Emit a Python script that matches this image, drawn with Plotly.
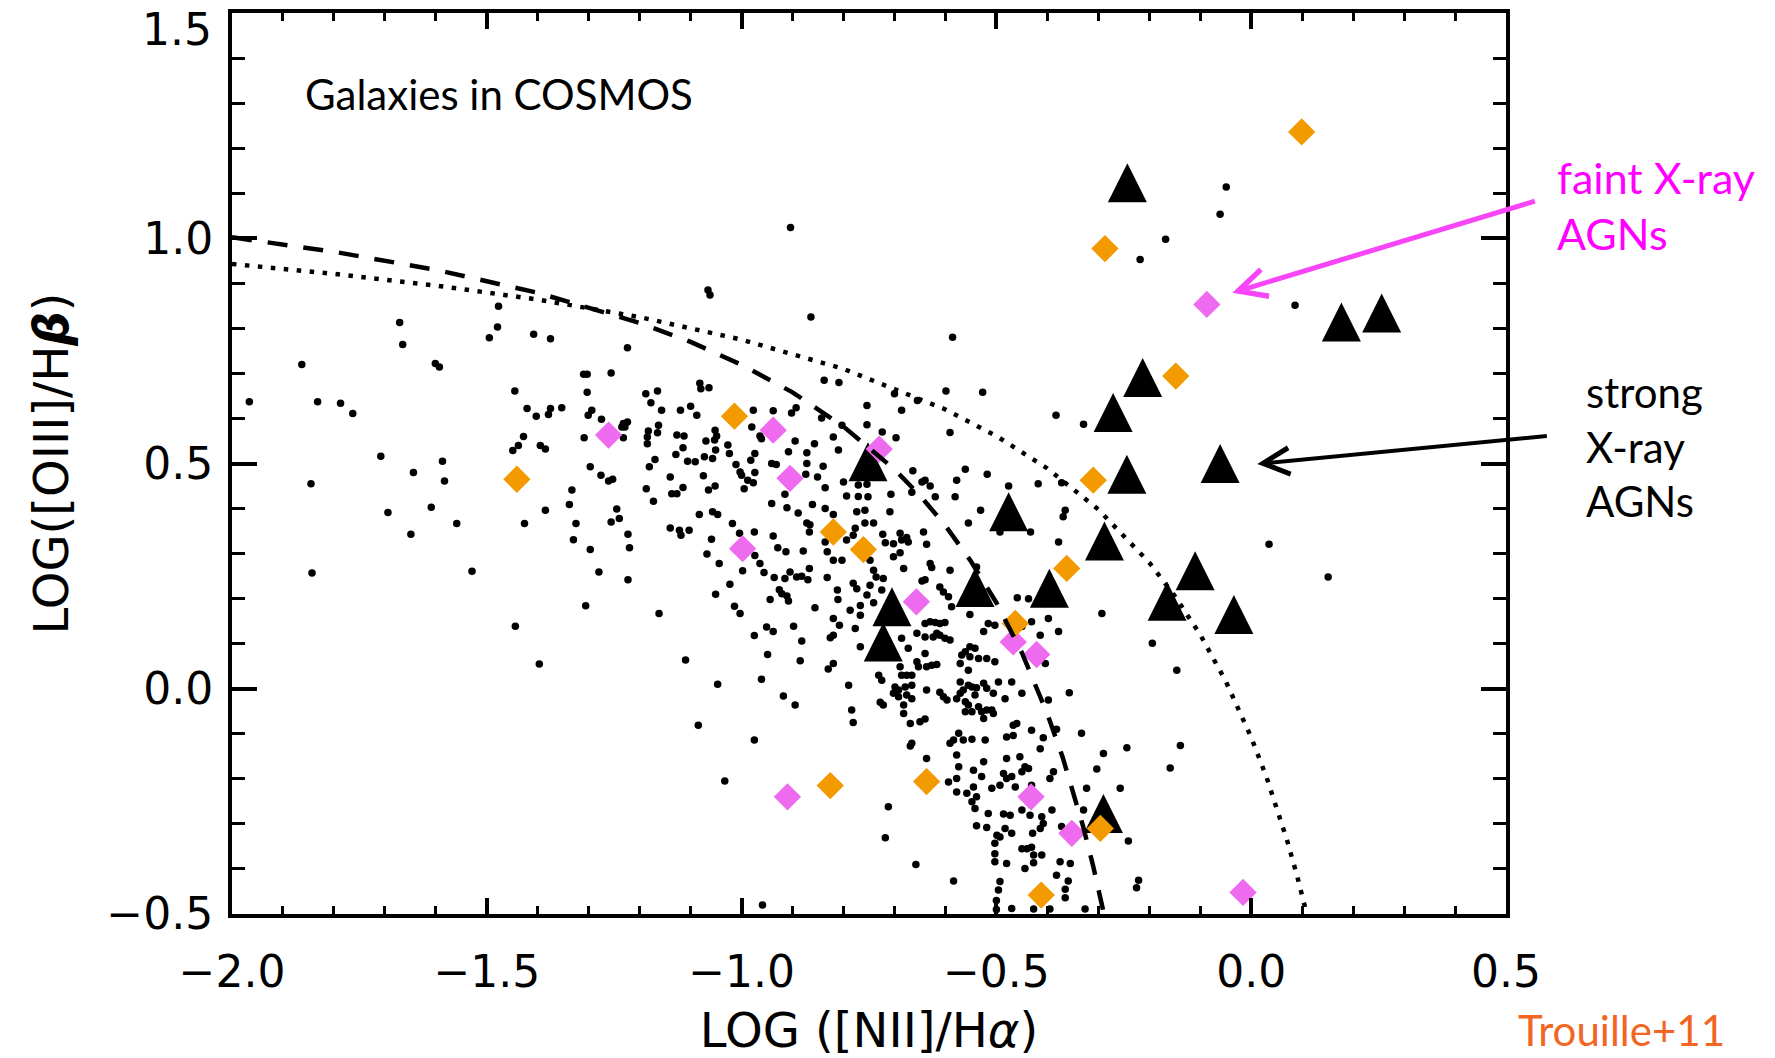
import plotly.graph_objects as go

# ---------------- data ----------------
# COSMOS galaxies (small black dots): log([NII]/Ha), log([OIII]/Hb)
gal_pts = [
    # left sparse region
    (-1.477,0.849),(-1.479,0.803),(-1.495,0.779),(-1.671,0.813),(-1.665,0.764),(-1.863,0.720),
    (-1.601,0.722),(-1.593,0.714),(-1.408,0.787),(-1.375,0.777),(-1.445,0.661),(-1.421,0.622),
    (-1.403,0.605),(-1.379,0.609),(-1.375,0.622),(-1.966,0.637),(-1.832,0.637),(-1.787,0.634),
    (-1.763,0.611),(-1.428,0.560),(-1.438,0.540),(-1.449,0.529),(-1.395,0.540),(-1.385,0.532),
    (-1.708,0.516),(-1.587,0.505),(-1.644,0.480),(-1.583,0.461),(-1.845,0.455),(-1.609,0.403),
    (-1.694,0.391),(-1.559,0.367),(-1.649,0.343),(-1.426,0.367),(-1.385,0.396),
    (-1.843,0.257),(-1.529,0.261),(-1.444,0.139),(-1.397,0.055),
    # upper isolated
    (-0.904,1.024),(-1.066,0.885),(-1.062,0.874),(-0.864,0.825),
    (-0.049,1.114),(-0.061,1.053),(-0.168,0.998),(-0.218,0.953),(0.086,0.851),
    (0.035,0.321),(0.151,0.248),(-0.194,0.101),(-0.146,0.041),(-0.139,-0.126),(-0.159,-0.176),
    # main cloud, upper-left part
    (-1.224,0.757),(-1.310,0.698),(-1.303,0.698),(-1.256,0.701),(-1.303,0.658),(-1.188,0.655),
    (-1.165,0.661),(-1.082,0.678),(-1.080,0.666),(-1.064,0.668),(-1.178,0.635),(-1.157,0.618),
    (-1.120,0.618),(-1.100,0.627),(-1.088,0.607),(-1.353,0.624),(-1.294,0.618),(-1.301,0.607),
    (-1.275,0.598),(-1.232,0.589),(-1.224,0.592),(-1.229,0.581),(-1.235,0.581),(-1.309,0.557),
    (-1.232,0.557),(-1.183,0.572),(-1.185,0.559),(-1.165,0.568),(-1.163,0.585),(-1.185,0.544),
    (-1.127,0.563),(-1.113,0.561),(-1.115,0.535),(-1.129,0.520),(-1.070,0.550),(-1.052,0.574),
    (-1.049,0.561),(-1.053,0.552),(-1.027,0.541),(-1.024,0.522),(-0.977,0.618),(-0.980,0.581),
    (-0.964,0.561),(-0.961,0.555),(-0.938,0.617),(-0.902,0.612),(-0.893,0.624),(-0.843,0.601),
    (-0.820,0.559),(-0.810,0.530),(-0.838,0.685),(-0.809,0.680),(-1.297,0.493),(-1.276,0.474),
    (-1.261,0.461),(-1.253,0.465),(-1.170,0.509),(-1.181,0.493),(-1.140,0.470),(-1.106,0.505),
    (-1.091,0.504),(-1.073,0.515),(-1.057,0.511),(-1.051,0.530),(-1.075,0.473),(-1.011,0.498),
    (-1.003,0.481),(-1.000,0.474),(-0.988,0.463),(-0.974,0.480),(-0.977,0.457),(-0.982,0.507),
    (-0.974,0.522),(-0.941,0.500),(-0.932,0.498),(-0.908,0.526),(-0.895,0.550),(-0.872,0.524),
    (-0.857,0.544),(-0.872,0.500),(-0.840,0.494),(-0.851,0.470),(-0.836,0.446),(-0.874,0.476),
    (-0.915,0.432),(-0.941,0.411),(-0.911,0.402),(-0.889,0.390),(-0.861,0.409),(-0.836,0.400),
    (-0.820,0.387),(-0.872,0.368),(-0.866,0.364),(-0.867,0.348),(-0.836,0.326),(-0.817,0.337),
    (-1.333,0.441),(-1.338,0.409),(-1.325,0.367),(-1.330,0.331),(-1.297,0.309),(-1.256,0.370),
    (-1.240,0.378),(-1.245,0.399),(-1.223,0.343),(-1.220,0.313),(-1.280,0.259),(-1.223,0.242),
    (-1.306,0.184),(-1.162,0.167),(-1.187,0.444),(-1.173,0.416),(-1.137,0.433),(-1.127,0.433),
    (-1.115,0.447),(-1.065,0.441),(-1.052,0.450),(-1.083,0.387),(-1.057,0.393),(-1.047,0.387),
    (-1.140,0.357),(-1.122,0.352),(-1.119,0.341),(-1.103,0.352),(-1.018,0.367),(-1.004,0.345),
    (-0.975,0.348),(-0.995,0.444),(-1.059,0.332),(-1.068,0.299),(-1.044,0.278),(-1.023,0.232),
    (-1.051,0.210),(-1.014,0.183),(-1.003,0.167),(-0.998,0.262),(-0.974,0.296),(-0.964,0.278),
    (-0.956,0.258),(-0.938,0.339),(-0.929,0.313),(-0.913,0.304),(-0.936,0.247),(-0.915,0.245),
    (-0.905,0.259),(-0.892,0.248),(-0.882,0.250),(-0.870,0.242),(-0.867,0.267),(-0.879,0.306),
    (-0.926,0.220),(-0.921,0.211),(-0.911,0.206),(-0.908,0.195),(-0.944,0.198),(-0.951,0.137),
    (-0.898,0.139),(-0.856,0.180),(-0.832,0.247),(-0.832,0.304),(-0.820,0.285),(-0.820,0.156),
    (-0.811,0.198),(-0.812,0.219),
    # main cloud, upper-right part
    (-0.586,0.780),(-0.700,0.655),(-0.655,0.640),(-0.599,0.661),(-0.527,0.658),(-0.754,0.629),
    (-0.686,0.618),(-0.383,0.607),(-0.329,0.587),(-0.754,0.586),(-0.591,0.569),(-0.724,0.570),
    (-0.697,0.557),(-0.561,0.487),(-0.518,0.476),(-0.664,0.484),(-0.646,0.459),(-0.640,0.463),
    (-0.630,0.450),(-0.578,0.463),(-0.581,0.426),(-0.620,0.426),(-0.666,0.436),(-0.476,0.450),
    (-0.418,0.455),(-0.372,0.457),(-0.365,0.396),(-0.369,0.382),(-0.531,0.396),(-0.707,0.432),
    (-0.709,0.393),(-0.800,0.459),(-0.771,0.452),(-0.754,0.454),(-0.752,0.426),(-0.771,0.427),
    (-0.794,0.428),(-0.774,0.393),(-0.758,0.396),(-0.758,0.368),(-0.741,0.368),(-0.777,0.356),
    (-0.781,0.341),(-0.794,0.330),(-0.723,0.343),(-0.718,0.324),(-0.702,0.322),(-0.689,0.345),
    (-0.686,0.330),(-0.676,0.336),(-0.673,0.326),(-0.643,0.348),(-0.637,0.321),(-0.689,0.302),
    (-0.702,0.293),(-0.682,0.267),(-0.803,0.285),(-0.748,0.285),(-0.741,0.263),(-0.736,0.248),
    (-0.722,0.245),(-0.748,0.230),(-0.781,0.234),(-0.774,0.222),(-0.754,0.208),(-0.725,0.219),
    (-0.741,0.191),(-0.767,0.185),(-0.787,0.174),(-0.767,0.163),(-0.646,0.239),(-0.640,0.242),
    (-0.630,0.278),(-0.627,0.269),(-0.611,0.226),(-0.604,0.215),(-0.591,0.263),(-0.594,0.204),
    (-0.588,0.182),(-0.552,0.165),(-0.539,0.270),(-0.459,0.202),(-0.437,0.200),(-0.378,0.326),
    (-0.433,0.348),(-0.493,0.348),(-0.555,0.368),(-0.293,0.167),(-0.803,0.585),
    # lower-left part
    (-1.110,0.064),(-1.047,0.010),(-1.085,-0.081),(-0.975,-0.114),(-1.033,-0.205),(-0.961,0.021),
    (-0.949,0.076),(-0.975,0.118),(-0.938,0.127),(-0.882,0.106),(-0.885,0.062),(-0.918,-0.016),
    (-0.895,-0.036),(-0.830,0.044),(-0.820,0.056),(-0.826,0.113),(-0.820,0.119),(-0.808,0.141),
    (-0.959,-0.480),
    # lower-right (dense tail)
    (-0.777,0.134),(-0.767,0.093),(-0.686,0.112),(-0.673,0.090),(-0.656,0.123),(-0.640,0.145),
    (-0.630,0.149),(-0.620,0.147),(-0.611,0.145),(-0.601,0.147),(-0.640,0.115),(-0.624,0.115),
    (-0.617,0.123),(-0.611,0.119),(-0.601,0.112),(-0.591,0.108),(-0.640,0.078),(-0.656,0.060),
    (-0.653,0.049),(-0.637,0.049),(-0.627,0.052),(-0.617,0.054),(-0.689,0.049),(-0.686,0.030),
    (-0.676,0.030),(-0.666,0.030),(-0.731,0.030),(-0.725,0.019),(-0.790,0.008),(-0.699,0.004),
    (-0.692,-0.003),(-0.679,0.004),(-0.666,0.008),(-0.676,-0.014),(-0.666,-0.022),(-0.702,-0.010),
    (-0.692,-0.018),(-0.682,-0.036),(-0.682,-0.055),(-0.728,-0.030),(-0.722,-0.036),(-0.784,-0.047),
    (-0.781,-0.075),(-0.669,-0.077),(-0.650,-0.073),(-0.640,-0.067),(-0.637,-0.003),(-0.611,-0.008),
    (-0.604,-0.018),(-0.597,-0.025),(-0.578,-0.022),(-0.571,-0.010),(-0.565,-0.003),(-0.555,0.008),
    (-0.548,0.004),(-0.539,0.002),(-0.542,-0.014),(-0.525,0.012),(-0.519,0.001),(-0.506,-0.010),
    (-0.496,0.015),(-0.483,-0.022),(-0.470,0.015),(-0.450,-0.010),(-0.561,-0.029),(-0.555,-0.036),
    (-0.561,-0.051),(-0.548,-0.051),(-0.535,-0.040),(-0.529,-0.051),(-0.519,-0.047),(-0.509,-0.047),
    (-0.506,-0.055),(-0.525,-0.066),(-0.571,0.015),(-0.571,0.056),(-0.568,0.075),(-0.561,0.082),
    (-0.552,0.093),(-0.542,0.090),(-0.552,0.071),(-0.555,0.041),(-0.535,0.067),(-0.519,0.067),
    (-0.503,0.060),(-0.525,0.127),(-0.516,0.145),(-0.503,0.141),(-0.480,0.104),(-0.467,0.112),
    (-0.450,0.138),(-0.431,0.149),(-0.414,0.119),(-0.398,0.156),(-0.378,0.127),(-0.404,0.056),
    (-0.357,-0.009),(-0.398,-0.025),(-0.467,-0.081),(-0.460,-0.077),(-0.431,-0.092),(-0.408,-0.109),
    (-0.382,-0.090),(-0.333,-0.099),(-0.290,-0.144),(-0.244,-0.131),(-0.303,-0.178),(-0.323,-0.221),
    (-0.257,-0.221),(-0.241,-0.338),(-0.388,-0.184),(-0.395,-0.199),(-0.414,-0.133),(-0.454,-0.151),
    (-0.450,-0.184),(-0.444,-0.173),(-0.437,-0.177),(-0.431,-0.214),(-0.480,-0.155),(-0.486,-0.188),
    (-0.480,-0.199),(-0.470,-0.195),(-0.463,-0.218),(-0.493,-0.214),(-0.509,-0.221),(-0.525,-0.162),
    (-0.529,-0.195),(-0.545,-0.181),(-0.545,-0.218),(-0.539,-0.240),(-0.548,-0.251),(-0.558,-0.232),
    (-0.578,-0.199),(-0.578,-0.229),(-0.574,-0.173),(-0.578,-0.147),(-0.591,-0.121),(-0.584,-0.114),
    (-0.574,-0.099),(-0.565,-0.114),(-0.548,-0.112),(-0.522,-0.114),(-0.480,-0.107),(-0.467,-0.104),
    (-0.666,-0.121),(-0.669,-0.127),(-0.637,-0.155),(-0.594,-0.207),(-0.712,-0.262),(-0.718,-0.331),
    (-0.658,-0.390),(-0.584,-0.427),(-0.542,-0.266),(-0.516,-0.277),(-0.486,-0.278),(-0.473,-0.281),
    (-0.450,-0.269),(-0.434,-0.281),(-0.411,-0.284),(-0.408,-0.299),(-0.391,-0.269),(-0.414,-0.310),
    (-0.539,-0.304),(-0.519,-0.308),(-0.483,-0.310),(-0.499,-0.325),(-0.503,-0.343),(-0.493,-0.329),
    (-0.470,-0.321),(-0.503,-0.366),(-0.480,-0.388),(-0.503,-0.384),(-0.450,-0.355),(-0.440,-0.355),
    (-0.431,-0.352),(-0.427,-0.369),(-0.429,-0.321),(-0.411,-0.369),(-0.444,-0.399),(-0.427,-0.386),
    (-0.375,-0.384),(-0.355,-0.388),(-0.372,-0.306),(-0.382,-0.414),(-0.359,-0.427),(-0.365,-0.445),
    (-0.365,-0.464),(-0.493,-0.428),(-0.496,-0.447),(-0.470,-0.488),(-0.427,-0.489),(-0.395,-0.489),
    (-0.326,-0.489),(-0.221,-0.425),(-0.225,-0.442),(-0.329,-0.269),(-0.500,-0.470),(-0.500,-0.490),
]
gal_x = [p[0] for p in gal_pts]
gal_y = [p[1] for p in gal_pts]

# strong X-ray AGNs (black triangles)
strong_x = [-0.243, 0.177, 0.256, -0.213, -0.271, -0.244, -0.061, -0.752, -0.476,
            -0.288, -0.542, -0.396, -0.110, -0.165, -0.034, -0.705, -0.722, -0.290]
strong_y = [1.123, 0.814, 0.834, 0.691, 0.613, 0.476, 0.500, 0.504, 0.393,
            0.328, 0.225, 0.223, 0.262, 0.194, 0.165, 0.182, 0.104, -0.277]

# orange diamonds
orange_x = [0.099, -0.287, -0.148, -1.014, -1.441, -0.310, -0.820, -0.761, -0.362,
            -0.463, -0.826, -0.637, -0.296, -0.412]
orange_y = [1.236, 0.977, 0.694, 0.605, 0.465, 0.463, 0.348, 0.309, 0.267,
            0.145, -0.215, -0.206, -0.310, -0.458]

# faint X-ray AGNs (violet diamonds)
faint_x = [-0.087, -1.261, -0.938, -0.730, -0.905, -0.998, -0.657, -0.467, -0.421,
           -0.910, -0.432, -0.352, -0.016]
faint_y = [0.853, 0.563, 0.574, 0.532, 0.467, 0.311, 0.193, 0.104, 0.076,
           -0.240, -0.240, -0.321, -0.452]

# demarcation curves (dashed and dotted)
dash_x = [-2.0, -1.8, -1.6, -1.4, -1.2, -1.1, -1.0, -0.9, -0.8, -0.7, -0.65, -0.6, -0.55,
          -0.5, -0.45, -0.42, -0.4, -0.37, -0.35, -0.33, -0.31, -0.29, -0.289]
dash_y = [1.002, 0.970, 0.930, 0.879, 0.812, 0.770, 0.719, 0.658, 0.582, 0.487, 0.429, 0.362,
          0.283, 0.191, 0.080, 0.002, -0.056, -0.152, -0.225, -0.305, -0.394, -0.494, -0.500]
dot_x = [-2.0, -1.8, -1.6, -1.4, -1.2, -1.0, -0.8, -0.6, -0.5, -0.4, -0.3, -0.2, -0.15,
         -0.1, -0.05, 0.0, 0.03, 0.05, 0.07, 0.09, 0.109]
dot_y = [0.943, 0.921, 0.895, 0.864, 0.825, 0.775, 0.710, 0.620, 0.561, 0.489, 0.398, 0.280,
         0.206, 0.120, 0.017, -0.108, -0.196, -0.262, -0.335, -0.415, -0.500]

x_ticks = [-2.0, -1.5, -1.0, -0.5, 0.0, 0.5]
y_ticks = [-0.5, 0.0, 0.5, 1.0, 1.5]
# the top label (1.5) sits just below its tick in the reference, so it is written separately
y_ticktext = ["\u22120.5", "0.0", "0.5", "1.0", ""]
y_top_label = "1.5"

# ---------------- layout constants ----------------
W, H = 1775, 1058
ML, MR, MT, MB = 232, 269, 13, 144
X_RANGE = [-2.0, 0.5]
Y_RANGE = [-0.5, 1.5]
PLOT_W = W - ML - MR
PLOT_H = H - MT - MB
PX_PER_Y = PLOT_H / (Y_RANGE[1] - Y_RANGE[0])
TRI_SIZE = 39
# 'arrow-up' symbol has its apex at the anchor: lift by half its height to centre it
tri_y_anchor = [v + (TRI_SIZE / 2) / PX_PER_Y for v in strong_y]

def paper_x(px):
    return (px - ML) / PLOT_W

def paper_y(py):
    return (H - MB - py) / PLOT_H

fig = go.Figure()
fig.add_trace(go.Scatter(x=gal_x, y=gal_y, mode="markers",
                         marker=dict(color="black", size=7.5, line=dict(width=0)),
                         name="COSMOS galaxies"))
fig.add_trace(go.Scatter(x=strong_x, y=tri_y_anchor, mode="markers",
                         marker=dict(symbol="arrow-up", color="black", size=TRI_SIZE,
                                     line=dict(width=0)),
                         name="strong X-ray AGNs"))
fig.add_trace(go.Scatter(x=faint_x, y=faint_y, mode="markers",
                         marker=dict(symbol="diamond", color="#EE6AEE", size=21,
                                     line=dict(width=0)),
                         name="faint X-ray AGNs"))
fig.add_trace(go.Scatter(x=orange_x, y=orange_y, mode="markers",
                         marker=dict(symbol="diamond", color="#F39A00", size=21,
                                     line=dict(width=0)),
                         name="other"))
fig.add_trace(go.Scatter(x=dash_x, y=dash_y, mode="lines",
                         line=dict(color="black", width=4.5, dash="20px,16px"),
                         name="Kauffmann"))
fig.add_trace(go.Scatter(x=dot_x, y=dot_y, mode="lines",
                         line=dict(color="black", width=4.5, dash="4.5px,8.5px"),
                         name="Kewley"))

axis_font = dict(family="DejaVu Sans", size=44, color="black")
title_font = dict(family="DejaVu Sans", size=48, color="black")
calibri = "Lato"

fig.update_layout(
    width=W, height=H,
    margin=dict(l=ML, r=MR, t=MT, b=MB, pad=0, autoexpand=False),
    paper_bgcolor="white", plot_bgcolor="white",
    showlegend=False,
    xaxis=dict(range=X_RANGE, showline=True, linewidth=4, linecolor="black",
               mirror="allticks", ticks="inside", ticklen=16, tickwidth=3.5,
               tickcolor="black", tickvals=x_ticks, tickformat=".1f",
               showgrid=False, zeroline=False, tickfont=axis_font, automargin=False,
               ticklabelstandoff=16, ticklabeloverflow="allow",
               minor=dict(ticks="inside", ticklen=8, tickwidth=3, tickcolor="black",
                          dtick=0.1, tick0=0, showgrid=False),
               title=dict(text="LOG ([NII]/H<i>α</i>)", font=title_font, standoff=22)),
    yaxis=dict(range=Y_RANGE, showline=True, linewidth=4, linecolor="black",
               mirror="allticks", ticks="inside", ticklen=25, tickwidth=3.5,
               tickcolor="black", tickvals=y_ticks, ticktext=y_ticktext,
               showgrid=False, zeroline=False, tickfont=axis_font, automargin=False,
               ticklabelstandoff=6, ticklabeloverflow="allow",
               minor=dict(ticks="inside", ticklen=13, tickwidth=3, tickcolor="black",
                          dtick=0.1, tick0=0, showgrid=False),
               title=dict(text="LOG([OIII]/H<i><b>β</b></i>)", font=title_font, standoff=24)),
    annotations=[
        dict(text=y_top_label, xref="paper", yref="paper",
             x=paper_x(214), y=paper_y(30), xanchor="right", yanchor="middle",
             showarrow=False, font=axis_font),
        dict(text="Galaxies in COSMOS", xref="paper", yref="paper",
             x=paper_x(303), y=paper_y(94), xanchor="left", yanchor="middle",
             showarrow=False, font=dict(family=calibri, size=42, color="black")),
        dict(text="faint X-ray<br>AGNs", xref="paper", yref="paper",
             x=paper_x(1555), y=paper_y(205), xanchor="left", yanchor="middle",
             align="left", showarrow=False,
             font=dict(family=calibri, size=43, color="#FF00FF")),
        dict(text="strong<br>X-ray<br>AGNs", xref="paper", yref="paper",
             x=paper_x(1584), y=paper_y(446), xanchor="left", yanchor="middle",
             align="left", showarrow=False,
             font=dict(family=calibri, size=42, color="black")),
        dict(text="Trouille+11", xref="paper", yref="paper",
             x=paper_x(1516), y=paper_y(1057), xanchor="left", yanchor="bottom",
             showarrow=False, font=dict(family=calibri, size=42, color="#F26522")),
        dict(text="", x=-0.037, y=0.879, xref="x", yref="y",
             ax=304, ay=-92, showarrow=True, arrowhead=5, arrowsize=1.1,
             arrowwidth=5, arrowcolor="#F745F7", standoff=0),
        dict(text="", x=0.012, y=0.499, xref="x", yref="y",
             ax=291, ay=-28, showarrow=True, arrowhead=5, arrowsize=1.3,
             arrowwidth=4, arrowcolor="black", standoff=0),
    ],
)

fig.write_html("out.html")
